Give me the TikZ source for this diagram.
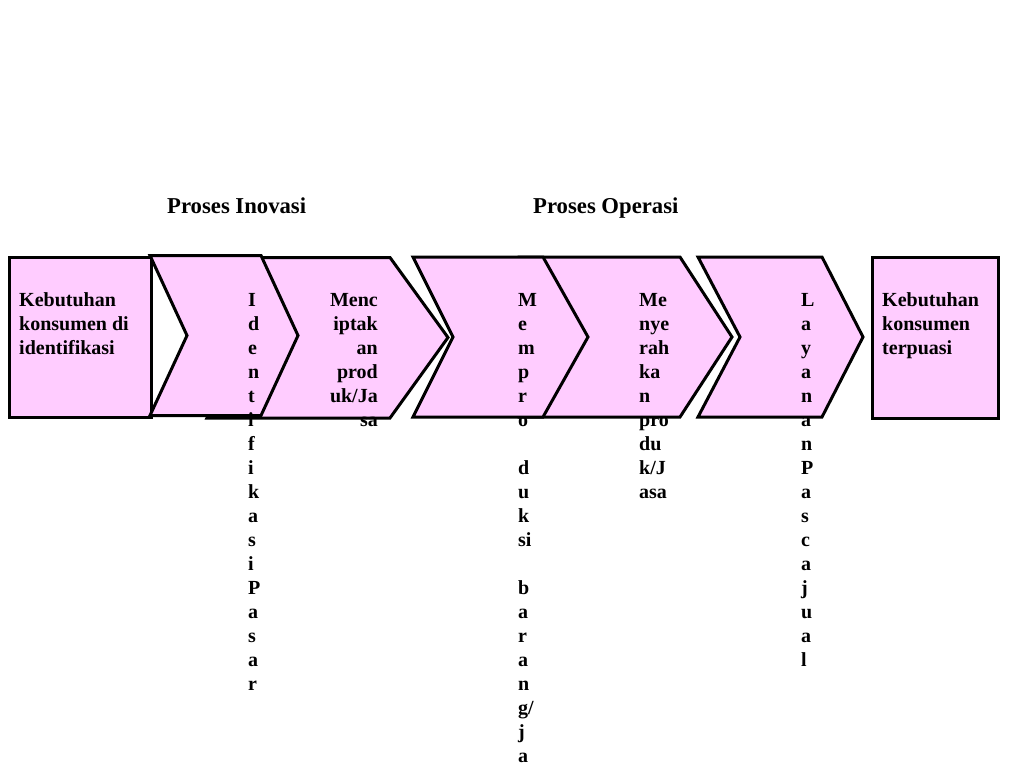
\documentclass[tikz,border=0pt]{standalone}
\usepackage{fontspec}
\setmainfont{Liberation Serif}
\definecolor{pinkfill}{RGB}{255,204,255}
\tikzset{
  shapebox/.style={draw=black, fill=pinkfill, line width=3pt, line join=miter},
  lbl/.style={font=\fontsize{20}{24}\selectfont\bfseries, inner sep=0pt, text=black},
  ttl/.style={font=\fontsize{22.7}{27}\selectfont\bfseries, inner sep=0pt, anchor=base west, text=black}
}
\begin{document}
\begin{tikzpicture}[x=1pt,y=-1pt]
\useasboundingbox (0,0) rectangle (1024,768);
% titles
\node[ttl] (tInov) at (167,213) {Proses Inovasi};
\node[ttl] (tOper) at (533,213) {Proses Operasi};
% left box
\draw[shapebox] (9,257) rectangle (151,417);
% chevron 2 (behind chevron 1)
\draw[shapebox] (207,257.5) -- (390,257.5) -- (448,337.5) -- (390,418) -- (207,418) -- (247,337.5) -- cycle;
% chevron 1
\draw[shapebox] (150,255.5) -- (261,255.5) -- (298,335.5) -- (261,415.5) -- (150,415.5) -- (187,335.5) -- cycle;
% chevron 4 (behind chevron 3)
\draw[shapebox] (520,257) -- (680,257) -- (732,337) -- (680,417) -- (520,417) -- (560,337) -- cycle;
% chevron 3
\draw[shapebox] (413,257) -- (543,257) -- (588,337) -- (543,417) -- (413,417) -- (453,337) -- cycle;
% chevron 5
\draw[shapebox] (698,257) -- (822,257) -- (863,337) -- (822,417) -- (698,417) -- (740,337) -- cycle;
% right box
\draw[shapebox] (872,257) rectangle (998,418);
% texts
\node[lbl, align=left, anchor=north west] (kLeft) at (19,289.2)
  {\strut Kebutuhan\\konsumen di\\identifikasi};
\node[lbl, align=left, anchor=north west] (identPasar) at (248,289.2)
  {\strut I\\d\\e\\n\\t\\i\\f\\i\\k\\a\\s\\i\\P\\a\\s\\a\\r};
\node[lbl, align=right, anchor=north east] (cipta) at (378,289.2)
  {\strut Menc\\iptak\\an\\prod\\uk/Ja\\sa};
\node[lbl, align=left, anchor=north west] (produksi) at (518,289.2)
  {\strut M\\e\\m\\p\\r\\o\\\mbox{}\\d\\u\\k\\si\\\mbox{}\\b\\a\\r\\a\\n\\g/\\j\\a};
\node[lbl, align=left, anchor=north west] (serah) at (639,289.2)
  {\strut Me\\nye\\rah\\ka\\n\\pro\\du\\k/J\\asa};
\node[lbl, align=left, anchor=north west] (layanan) at (801,289.2)
  {\strut L\\a\\y\\a\\n\\a\\n\\P\\a\\s\\c\\a\\j\\u\\a\\l};
\node[lbl, align=left, anchor=north west] (kRight) at (882,289.2)
  {\strut Kebutuhan\\konsumen\\terpuasi};
\end{tikzpicture}
\end{document}
